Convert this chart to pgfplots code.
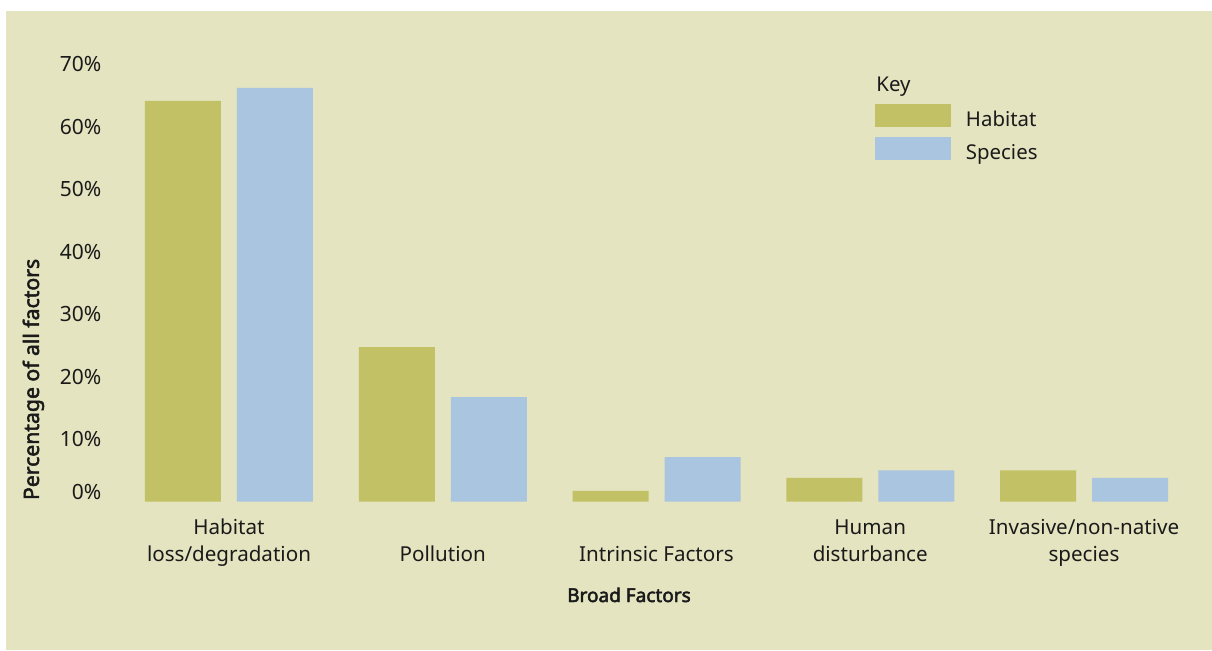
\documentclass[border=0pt]{standalone}
\usepackage{pgfplots}
\pgfplotsset{compat=1.18}
\usepackage{fontspec}
\setmainfont{Noto Sans}[BoldFont={Noto Sans},BoldFeatures={FakeBold=2.5}]
\definecolor{bg}{HTML}{E4E4C0}
\definecolor{hab}{HTML}{C2C165}
\definecolor{spe}{HTML}{A9C5DF}
\definecolor{txt}{HTML}{1A1A1A}
\begin{document}
\begin{tikzpicture}
\useasboundingbox (0,0) rectangle (606pt,325pt);
\fill[white] (0,0) rectangle (606pt,325pt);
\fill[bg] (3pt,0) rectangle (606pt,319.5pt);
\begin{axis}[
 at={(50pt,74.25pt)}, anchor=south west,
 scale only axis, width=550pt, height=218.75pt,
 xmin=-0.6035, xmax=4.5427, ymin=0, ymax=70,
 axis line style={draw=none}, major tick length=0pt, tick style={draw=none},
 xtick={0,1,2,3,4},
 xticklabels={{\strut Habitat\\loss/degradation},{\strut\\Pollution},{\strut\\Intrinsic Factors},{\strut Human\\disturbance},{\strut Invasive/non-native\\species}},
 xticklabel style={align=center, anchor=north, inner sep=0pt, yshift=-6.95pt, font=\fontsize{10.3}{13.5}\selectfont, text=txt},
 ytick={1.57,10,20,30,40,50,60,70},
 yticklabels={0\%,10\%,20\%,30\%,40\%,50\%,60\%,70\%},
 yticklabel style={anchor=east, inner sep=0pt, xshift=0.85pt, font=\fontsize{10.5}{12}\selectfont, text=txt},
 ylabel={Percentage of all factors},
 ylabel style={at={(axis description cs:-0.0555,0.279)}, anchor=base, font=\bfseries\fontsize{10.6}{12}\selectfont, text=txt},
 xlabel={Broad Factors},
 xlabel style={at={(axis description cs:0.4809,-0.2297)}, anchor=base, font=\bfseries\fontsize{9.5}{12}\selectfont, text=txt},
 legend style={draw=none, fill=none, at={(axis description cs:0.7045,0.9086)}, anchor=north west, inner sep=0pt, outer sep=0pt, row sep=5pt, font=\fontsize{10.2}{12}\selectfont, text=txt, nodes={inner sep=0pt, text depth=0pt, yshift=4pt}, /tikz/every odd column/.append style={column sep=7.5pt}},
 legend cell align=left,
]
\addplot[ybar, bar width=38pt, bar shift=-23pt, fill=hab, draw=none,
  legend image code/.code={\fill[hab] (0pt,0pt) rectangle (38pt,11.5pt);}]
  coordinates {(0,64.1) (1,24.7) (2,1.7) (3,3.8) (4,5.0)};
\addlegendentry{Habitat}
\addplot[ybar, bar width=38pt, bar shift=23pt, fill=spe, draw=none,
  legend image code/.code={\fill[spe] (0pt,0pt) rectangle (38pt,11.5pt);}]
  coordinates {(0,66.2) (1,16.7) (2,7.1) (3,5.0) (4,3.8)};
\addlegendentry{Species}
\node[anchor=base west, inner sep=0pt, font=\fontsize{10.2}{12}\selectfont, text=txt] at (axis description cs:0.7055,0.937) {Key};
\end{axis}
\end{tikzpicture}
\end{document}
